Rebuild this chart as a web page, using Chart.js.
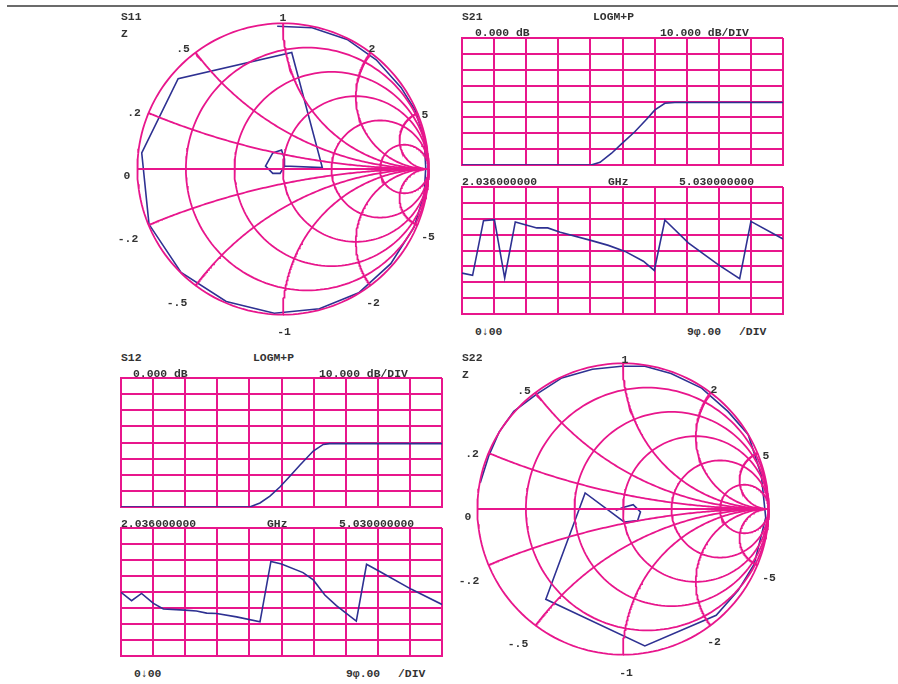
<!DOCTYPE html>
<html>
<head>
<meta charset="utf-8">
<script src="https://cdn.jsdelivr.net/npm/chart.js@4.4.1/dist/chart.umd.min.js"></script>
<style>
  body { margin: 0; background: #fff; }
  #page { position: relative; width: 898px; height: 684px; overflow: hidden;
          font-family: "Liberation Mono", "DejaVu Sans Mono", monospace; font-weight: bold;
          font-size: 11.4px; color: #333; }
  .topline { position: absolute; left: 7px; top: 5px; width: 891px; height: 2px; background: #6b6b6b; }
  .t { position: absolute; white-space: pre; line-height: 12px; transform: translateY(-50%); }
  .c { transform: translate(-50%, -50%); }
  .box { position: absolute; }
</style>
</head>
<body>
<div id="page">
  <div class="topline"></div>

  <div class="box" style="left:133px;top:19px"><canvas id="s11" width="300" height="300"></canvas></div>
  <div class="box" style="left:473px;top:359px"><canvas id="s22" width="300" height="300"></canvas></div>
  <div class="box" style="left:460px;top:36px"><canvas id="s21mag" width="325" height="131"></canvas></div>
  <div class="box" style="left:460px;top:185px"><canvas id="s21ph" width="325" height="131"></canvas></div>
  <div class="box" style="left:119px;top:376px"><canvas id="s12mag" width="325" height="133"></canvas></div>
  <div class="box" style="left:119px;top:526px"><canvas id="s12ph" width="325" height="132"></canvas></div>

  <!-- S11 -->
  <div class="t" style="left:121px;top:17px">S11</div>
  <div class="t" style="left:121px;top:34px">Z</div>
  <!-- S21 -->
  <div class="t" style="left:462px;top:17px">S21</div>
  <div class="t" style="left:593px;top:17px">LOGM+P</div>
  <div class="t" style="left:475px;top:33px">0.000 dB</div>
  <div class="t" style="left:660px;top:33px">10.000 dB/DIV</div>
  <div class="t" style="left:462px;top:182px">2.036000000</div>
  <div class="t" style="left:608px;top:182px">GHz</div>
  <div class="t" style="left:679px;top:182px">5.030000000</div>
  <div class="t" style="left:475px;top:332px">0↓00</div>
  <div class="t" style="left:687px;top:332px">9φ.00</div>
  <div class="t" style="left:739px;top:332px">/DIV</div>
  <!-- S12 -->
  <div class="t" style="left:121px;top:358px">S12</div>
  <div class="t" style="left:253px;top:358px">LOGM+P</div>
  <div class="t" style="left:133px;top:374px">0.000 dB</div>
  <div class="t" style="left:319px;top:374px">10.000 dB/DIV</div>
  <div class="t" style="left:121px;top:524px">2.036000000</div>
  <div class="t" style="left:267px;top:524px">GHz</div>
  <div class="t" style="left:339px;top:524px">5.030000000</div>
  <div class="t" style="left:134px;top:674px">0↓00</div>
  <div class="t" style="left:346px;top:674px">9φ.00</div>
  <div class="t" style="left:398px;top:674px">/DIV</div>
  <!-- S22 -->
  <div class="t" style="left:462px;top:358px">S22</div>
  <div class="t" style="left:462px;top:375px">Z</div>
</div>

<script>
const MAGENTA = '#e8168c';
const NAVY = '#2e3192';

/* ---------- Smith chart grid values ---------- */
const rCircles = [0, 0.2, 0.5, 1, 2, 5];
const xArcs = [0.2, 0.5, 1, 2, 5];
const smithLabels = ['1', '.5', '2', '.2', '5', '0', '-.2', '-5', '-.5', '-2', '-1'];
const s11LabelPos = [[283,18],[183,49],[372,49],[134,113],[425,115],[127,176],[128,239],[428,237],[177,303],[373,303],[284,332]];
const s22LabelPos = [[625,360],[524,391],[714,390],[472,454],[766,456],[468,517],[469,581],[769,578],[518,644],[714,642],[626,673]];

/* ---------- S11 trace (reflection coeff. re / im) ---------- */
const s11Re = [-0.04, 0.20, 0.44, 0.64, 0.81, 0.91, 0.97, 0.98, 0.97, 0.90, 0.74, 0.52, 0.25, -0.06, -0.39, -0.70, -0.92, -0.97, -0.72, 0.06, 0.27, 0.01, 0.01, -0.01, -0.07, -0.12, -0.07, -0.02, 0.01];
const s11Im = [0.98, 0.97, 0.89, 0.75, 0.56, 0.40, 0.20, 0.01, -0.17, -0.40, -0.65, -0.85, -0.96, -0.99, -0.91, -0.71, -0.38, 0.11, 0.62, 0.80, 0.01, 0.02, 0.07, 0.13, 0.11, 0.02, -0.03, -0.03, 0.02];

/* ---------- S22 trace ---------- */
const s22Re = [-0.98, -0.92, -0.85, -0.75, -0.59, -0.42, -0.21, -0.01, 0.15, 0.33, 0.54, 0.72, 0.86, 0.95, 0.98, 0.90, 0.79, 0.64, 0.15, -0.53, -0.26, 0.01, 0.10, 0.12, 0.07, 0.00, -0.05];
const s22Im = [0.18, 0.37, 0.53, 0.67, 0.79, 0.90, 0.96, 0.98, 0.98, 0.93, 0.83, 0.67, 0.51, 0.23, -0.06, -0.38, -0.56, -0.73, -0.94, -0.62, 0.11, -0.09, -0.08, -0.02, 0.03, 0.01, -0.01];

/* ---------- S21 (x in divisions, 2.036 -> 5.030 GHz) ---------- */
const s21MagX  = [0, 4.02, 4.30, 4.66, 4.97, 5.39, 5.75, 6.01, 6.32, 6.63, 10];
const s21MagDb = [-80, -80, -78.3, -72.6, -66.7, -58.9, -51.2, -45.3, -41.1, -40.6, -40.6];
const s21PhX   = [0, 0.33, 0.67, 1.01, 1.33, 1.66, 2.33, 2.67, 3.06, 4.04, 4.56, 5.08, 5.65, 5.99, 6.32, 7.05, 7.98, 8.65, 9.0, 10];
const s21PhDeg = [-128, -141, 169, 175, -156, 162, 128, 128, 103, 56, 29, -5, -61, -113, 173, 43, -80, -160, 165, 65];

/* ---------- S12 ---------- */
const s12MagX  = [0, 4.01, 4.33, 4.64, 4.95, 5.26, 5.57, 5.99, 6.30, 6.50, 10];
const s12MagDb = [-80, -80, -77.5, -73.2, -67.6, -60.9, -54.1, -45.3, -41.2, -40.7, -40.7];
const s12PhX   = [0, 0.33, 0.64, 1.01, 1.32, 1.99, 2.35, 2.67, 2.98, 3.6, 4.33, 4.67, 5.0, 5.67, 5.99, 6.35, 6.71, 7.33, 7.65, 8.06, 9.05, 10];
const s12PhDeg = [-2, -49, -8, -64, -96, -102, -107, -119, -121, -140, -168, 172, 158, 109, 68, -17, -77, -164, 156, 115, 15, -70];

/* ================= Smith chart ================= */
function gridLine(pts) {
  return { data: pts, showLine: true, borderColor: MAGENTA, borderWidth: 1.8, pointRadius: 0, tension: 0 };
}

function smithGrid() {
  const sets = [];
  rCircles.forEach(r => {
    const cx = r / (1 + r), rad = 1 / (1 + r), pts = [];
    for (let i = 0; i <= 180; i++) {
      const a = i / 180 * 2 * Math.PI;
      pts.push({ x: cx + rad * Math.cos(a), y: rad * Math.sin(a) });
    }
    sets.push(gridLine(pts));
  });
  // constant reactance arcs: z = r + jx, r from 0 to "infinity"
  xArcs.forEach(xv => [xv, -xv].forEach(x => {
    const pts = [];
    for (let i = 0; i <= 200; i++) {
      const t = i / 200;
      const r = t < 1 ? Math.pow(t / (1 - t), 1.5) : 1e9;
      const d = (r + 1) * (r + 1) + x * x;
      pts.push({ x: (r * r + x * x - 1) / d, y: 2 * x / d });
    }
    sets.push(gridLine(pts));
  }));
  sets.push(gridLine([{ x: -1, y: 0 }, { x: 1, y: 0 }]));
  return sets;
}

function smithChart(id, re, im, labelPos) {
  const trace = {
    data: re.map((v, i) => ({ x: v, y: im[i] })),
    showLine: true, borderColor: NAVY, borderWidth: 1.6, pointRadius: 0, tension: 0
  };
  new Chart(document.getElementById(id), {
    type: 'scatter',
    data: { datasets: [...smithGrid(), trace] },
    options: {
      responsive: false, animation: false, events: [],
      layout: { padding: 0 },
      plugins: { legend: { display: false }, tooltip: { enabled: false } },
      scales: {
        x: { type: 'linear', min: -1.03, max: 1.03, display: false },
        y: { type: 'linear', min: -1.03, max: 1.03, display: false }
      }
    }
  });
  const page = document.getElementById('page');
  smithLabels.forEach((txt, i) => {
    const d = document.createElement('div');
    d.className = 't c';
    d.style.left = labelPos[i][0] + 'px';
    d.style.top = labelPos[i][1] + 'px';
    d.textContent = txt;
    page.appendChild(d);
  });
}

/* ================= Rectangular grids ================= */
function rectChart(id, xs, ys, yMin, yMax, yStep) {
  const grid = { color: MAGENTA, lineWidth: 2, drawTicks: false };
  const border = { color: MAGENTA, width: 2 };
  new Chart(document.getElementById(id), {
    type: 'scatter',
    data: { datasets: [{
      data: xs.map((x, i) => ({ x, y: ys[i] })),
      showLine: true, borderColor: NAVY, borderWidth: 1.6, pointRadius: 0, tension: 0
    }] },
    options: {
      responsive: false, animation: false, events: [],
      layout: { padding: 2 },
      plugins: { legend: { display: false }, tooltip: { enabled: false } },
      scales: {
        x: { type: 'linear', min: 0, max: 10, ticks: { display: false, stepSize: 1 }, grid, border },
        y: { type: 'linear', min: yMin, max: yMax, ticks: { display: false, stepSize: yStep }, grid, border }
      }
    }
  });
}

smithChart('s11', s11Re, s11Im, s11LabelPos);
smithChart('s22', s22Re, s22Im, s22LabelPos);
rectChart('s21mag', s21MagX, s21MagDb, -80, 0, 10);
rectChart('s21ph', s21PhX, s21PhDeg, -360, 360, 90);
rectChart('s12mag', s12MagX, s12MagDb, -80, 0, 10);
rectChart('s12ph', s12PhX, s12PhDeg, -360, 360, 90);
</script>
</body>
</html>
